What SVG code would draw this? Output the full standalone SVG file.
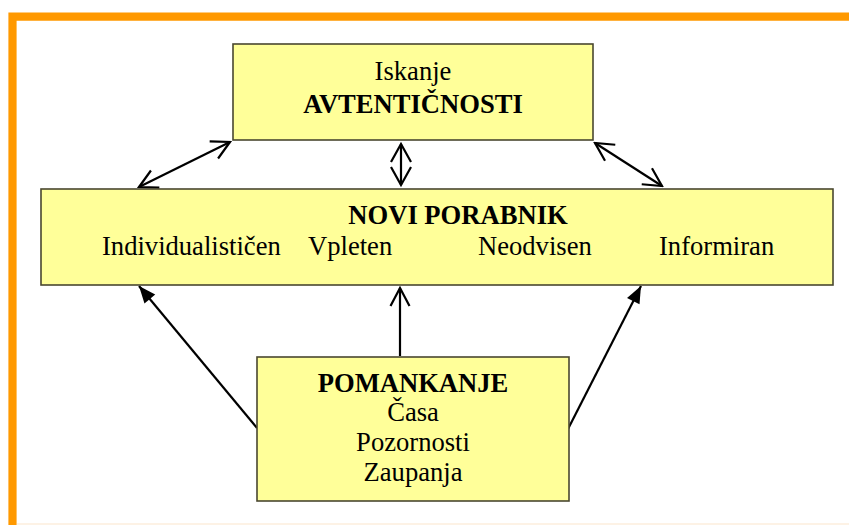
<svg xmlns="http://www.w3.org/2000/svg" width="849" height="525" viewBox="0 0 849 525">
<defs>
<style>
.box{fill:#FFFF99;stroke:#4a4830;stroke-width:1.6}
.t{font-family:"Liberation Serif","Times New Roman",serif;font-size:26.6px;fill:#000}
.b{font-weight:bold}
.c{text-anchor:middle}
.ln{stroke:#000;stroke-width:2.2;fill:none}
</style>
<marker id="open" viewBox="-22 -12 24 24" markerWidth="24" markerHeight="24" refX="0" refY="0" orient="auto-start-reverse" markerUnits="userSpaceOnUse">
<path d="M-18,-9.5 L0,0 L-18,9.5" fill="none" stroke="#000" stroke-width="2.2"/>
</marker>
<marker id="fill" viewBox="-20 -10 22 20" markerWidth="22" markerHeight="20" refX="0" refY="0" orient="auto" markerUnits="userSpaceOnUse">
<path d="M-17,-7 L0,0 L-17,7 z" fill="#000"/>
</marker>
</defs>
<rect width="849" height="525" fill="#fff"/>
<g id="frame">
<path d="M12.5,525 V16.6 H849" fill="none" stroke="#FF9900" stroke-width="8.2"/>
<line x1="17" y1="524" x2="849" y2="524" stroke="#fdeedd" stroke-width="1.5"/>
</g>
<g id="connectors">
<line class="ln" x1="139" y1="187" x2="230" y2="142" marker-start="url(#open)" marker-end="url(#open)"/>
<line class="ln" x1="595" y1="143" x2="662" y2="186" marker-start="url(#open)" marker-end="url(#open)"/>
<g id="center-double">
<line class="ln" x1="401" y1="144" x2="401" y2="185"/>
<path class="ln" d="M391,162 L401,144 L411,162"/>
<path class="ln" d="M391,167 L401,185 L411,167"/>
</g>
<line class="ln" x1="400" y1="356" x2="400" y2="288" marker-end="url(#open)"/>
<line class="ln" x1="257" y1="428" x2="139" y2="286" marker-end="url(#fill)"/>
<line class="ln" x1="568" y1="429" x2="641" y2="286" marker-end="url(#fill)"/>
</g>
<g id="avtenticnost">
<rect class="box" x="233" y="44" width="360" height="96"/>
<text class="t c" x="413" y="80">Iskanje</text>
<text class="t b c" x="413" y="113">AVTENTIČNOSTI</text>
</g>
<g id="novi-porabnik">
<rect class="box" x="41" y="189" width="792" height="96"/>
<text class="t b c" x="458" y="224">NOVI PORABNIK</text>
<text class="t" x="102" y="255">Individualističen</text>
<text class="t" x="308" y="255">Vpleten</text>
<text class="t" x="478" y="255">Neodvisen</text>
<text class="t" x="659" y="255">Informiran</text>
</g>
<g id="pomanjkanje">
<rect class="box" x="257" y="357" width="312" height="144"/>
<text class="t b c" x="413" y="392">POMANKANJE</text>
<text class="t c" x="413" y="421">Časa</text>
<text class="t c" x="413" y="451">Pozornosti</text>
<text class="t c" x="413" y="481">Zaupanja</text>
</g>
</svg>
